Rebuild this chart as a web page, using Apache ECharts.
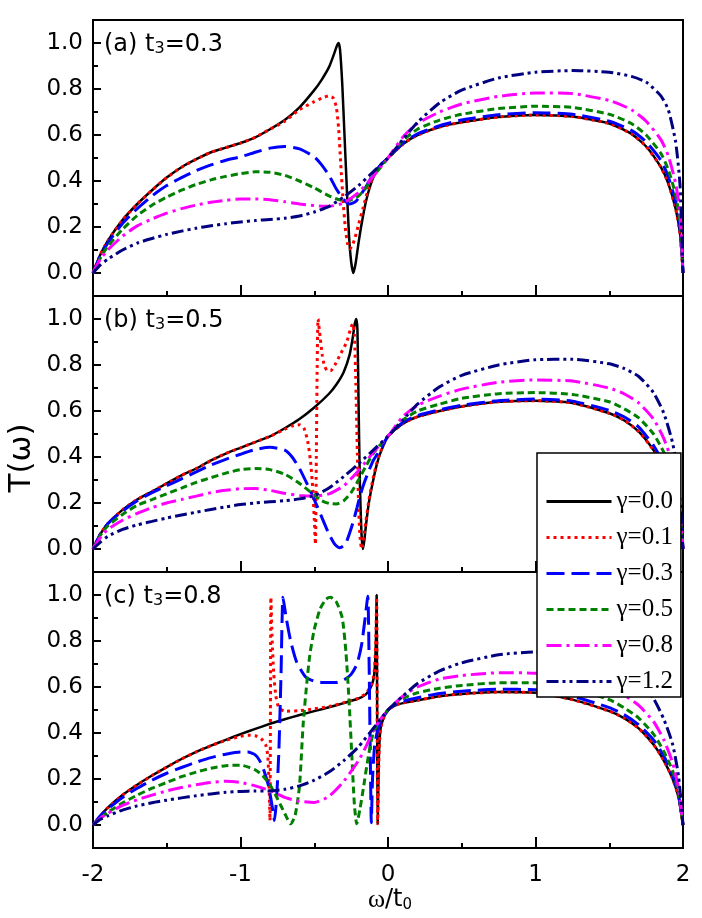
<!DOCTYPE html>
<html>
<head>
<meta charset="utf-8">
<script src="https://cdn.jsdelivr.net/npm/echarts@6/dist/echarts.min.js"></script>
<style>
  html, body { margin: 0; padding: 0; background: #fff; }
  #main { width: 702px; height: 918px; }
</style>
</head>
<body>
<div id="main"></div>
<script>
// legend names, one per gamma
const names = ['γ=0.0', 'γ=0.1', 'γ=0.3', 'γ=0.5', 'γ=0.8', 'γ=1.2'];
const xTicks = [-2, -1, 0, 1, 2];
const yTicks = [0, 0.2, 0.4, 0.6, 0.8, 1.0];

// panel (a) t3=0.3
const a_g00 = [[-2,0],[-1.95,0.08],[-1.9,0.14],[-1.8,0.23],[-1.7,0.30],[-1.6,0.36],[-1.5,0.415],[-1.4,0.46],[-1.3,0.495],[-1.2,0.525],[-1.1,0.545],[-1.0,0.565],[-0.9,0.59],[-0.8,0.625],[-0.7,0.665],[-0.6,0.72],[-0.5,0.795],[-0.45,0.84],[-0.4,0.895],[-0.37,0.945],[-0.345,0.99],[-0.335,1.0],[-0.325,0.97],[-0.31,0.82],[-0.295,0.6],[-0.28,0.38],[-0.265,0.17],[-0.25,0.05],[-0.235,0.0],[-0.22,0.04],[-0.2,0.13],[-0.18,0.21],[-0.15,0.31],[-0.12,0.38],[-0.09,0.43],[-0.05,0.47],[0,0.5],[0.1,0.56],[0.2,0.6],[0.35,0.635],[0.5,0.655],[0.75,0.678],[1.0,0.687],[1.25,0.68],[1.5,0.65],[1.65,0.605],[1.75,0.55],[1.85,0.46],[1.9,0.39],[1.95,0.28],[1.98,0.17],[2,0]];
const a_g01 = [[-2,0],[-1.95,0.08],[-1.9,0.14],[-1.8,0.23],[-1.7,0.30],[-1.6,0.36],[-1.5,0.415],[-1.4,0.46],[-1.3,0.495],[-1.2,0.525],[-1.1,0.545],[-1.0,0.565],[-0.9,0.59],[-0.8,0.625],[-0.7,0.66],[-0.6,0.71],[-0.5,0.745],[-0.45,0.76],[-0.4,0.77],[-0.37,0.76],[-0.35,0.72],[-0.335,0.63],[-0.32,0.47],[-0.305,0.32],[-0.29,0.2],[-0.275,0.13],[-0.26,0.105],[-0.245,0.115],[-0.225,0.15],[-0.2,0.21],[-0.17,0.28],[-0.14,0.35],[-0.1,0.42],[-0.05,0.47],[0,0.5],[0.1,0.56],[0.2,0.6],[0.35,0.635],[0.5,0.655],[0.75,0.678],[1.0,0.687],[1.25,0.68],[1.5,0.65],[1.65,0.605],[1.75,0.55],[1.85,0.46],[1.9,0.39],[1.95,0.28],[1.98,0.17],[2,0]];
const a_g03 = [[-2,0],[-1.95,0.075],[-1.9,0.13],[-1.8,0.215],[-1.7,0.28],[-1.6,0.335],[-1.5,0.38],[-1.4,0.415],[-1.3,0.445],[-1.2,0.47],[-1.1,0.49],[-1.0,0.505],[-0.9,0.525],[-0.8,0.543],[-0.7,0.55],[-0.6,0.54],[-0.5,0.505],[-0.45,0.47],[-0.4,0.425],[-0.35,0.365],[-0.3,0.32],[-0.26,0.3],[-0.22,0.31],[-0.18,0.345],[-0.14,0.385],[-0.1,0.43],[-0.05,0.47],[0,0.5],[0.1,0.565],[0.2,0.605],[0.35,0.64],[0.5,0.665],[0.75,0.688],[1.0,0.697],[1.25,0.69],[1.5,0.66],[1.65,0.62],[1.75,0.57],[1.85,0.49],[1.9,0.42],[1.95,0.31],[1.98,0.2],[2,0]];
const a_g05 = [[-2,0],[-1.95,0.065],[-1.9,0.115],[-1.8,0.19],[-1.7,0.25],[-1.6,0.295],[-1.5,0.33],[-1.4,0.36],[-1.3,0.385],[-1.2,0.405],[-1.1,0.42],[-1.0,0.432],[-0.9,0.44],[-0.8,0.438],[-0.7,0.425],[-0.6,0.40],[-0.5,0.37],[-0.4,0.335],[-0.33,0.318],[-0.27,0.315],[-0.2,0.335],[-0.15,0.37],[-0.1,0.42],[-0.05,0.46],[0,0.5],[0.1,0.575],[0.2,0.625],[0.35,0.665],[0.5,0.69],[0.75,0.715],[1.0,0.725],[1.25,0.72],[1.5,0.69],[1.65,0.65],[1.75,0.60],[1.85,0.52],[1.9,0.45],[1.95,0.34],[1.98,0.22],[2,0]];
const a_g08 = [[-2,0],[-1.95,0.06],[-1.9,0.10],[-1.8,0.16],[-1.7,0.205],[-1.6,0.235],[-1.5,0.26],[-1.4,0.28],[-1.3,0.295],[-1.2,0.308],[-1.1,0.316],[-1.0,0.322],[-0.9,0.322],[-0.8,0.318],[-0.7,0.31],[-0.6,0.30],[-0.5,0.293],[-0.4,0.29],[-0.3,0.305],[-0.2,0.35],[-0.1,0.42],[-0.05,0.46],[0,0.5],[0.1,0.59],[0.2,0.65],[0.35,0.70],[0.5,0.735],[0.75,0.768],[1.0,0.783],[1.25,0.78],[1.5,0.75],[1.65,0.71],[1.75,0.66],[1.85,0.58],[1.9,0.51],[1.95,0.39],[1.98,0.26],[2,0]];
const a_g12 = [[-2,0],[-1.95,0.035],[-1.9,0.06],[-1.8,0.10],[-1.7,0.13],[-1.6,0.15],[-1.5,0.168],[-1.4,0.182],[-1.3,0.195],[-1.2,0.205],[-1.1,0.214],[-1.0,0.222],[-0.9,0.228],[-0.8,0.233],[-0.7,0.238],[-0.6,0.248],[-0.5,0.265],[-0.4,0.29],[-0.3,0.33],[-0.2,0.38],[-0.1,0.44],[0,0.5],[0.1,0.58],[0.2,0.655],[0.35,0.74],[0.5,0.795],[0.75,0.848],[1.0,0.873],[1.25,0.88],[1.5,0.873],[1.65,0.855],[1.75,0.83],[1.85,0.77],[1.9,0.71],[1.95,0.57],[1.98,0.38],[2,0]];

// panel (b) t3=0.5
const b_g00 = [[-2,0],[-1.95,0.065],[-1.9,0.11],[-1.8,0.17],[-1.7,0.215],[-1.6,0.25],[-1.5,0.285],[-1.4,0.32],[-1.3,0.35],[-1.2,0.385],[-1.1,0.415],[-1.0,0.44],[-0.9,0.465],[-0.8,0.49],[-0.7,0.525],[-0.6,0.565],[-0.5,0.615],[-0.4,0.675],[-0.35,0.715],[-0.3,0.77],[-0.26,0.845],[-0.24,0.915],[-0.225,0.98],[-0.215,1.0],[-0.207,0.95],[-0.2,0.65],[-0.19,0.27],[-0.18,0.07],[-0.17,0.0],[-0.16,0.04],[-0.15,0.1],[-0.13,0.2],[-0.1,0.3],[-0.075,0.37],[-0.05,0.42],[0,0.49],[0.1,0.545],[0.2,0.575],[0.35,0.60],[0.5,0.62],[0.75,0.64],[1.0,0.645],[1.25,0.635],[1.5,0.59],[1.6,0.56],[1.7,0.51],[1.8,0.43],[1.87,0.35],[1.93,0.25],[1.97,0.15],[2,0]];
const b_g01 = [[-2,0],[-1.95,0.065],[-1.9,0.11],[-1.8,0.17],[-1.7,0.215],[-1.6,0.25],[-1.5,0.285],[-1.4,0.32],[-1.3,0.35],[-1.2,0.385],[-1.1,0.415],[-1.0,0.44],[-0.9,0.465],[-0.8,0.49],[-0.7,0.52],[-0.65,0.535],[-0.6,0.54],[-0.57,0.525],[-0.545,0.47],[-0.525,0.38],[-0.51,0.26],[-0.5,0.13],[-0.492,0.02],[-0.486,0.4],[-0.48,0.8],[-0.474,1.0],[-0.46,0.92],[-0.445,0.84],[-0.43,0.795],[-0.41,0.775],[-0.39,0.775],[-0.36,0.80],[-0.32,0.85],[-0.28,0.90],[-0.255,0.955],[-0.24,0.98],[-0.228,0.93],[-0.218,0.72],[-0.208,0.42],[-0.198,0.16],[-0.188,0.04],[-0.178,0.0],[-0.165,0.05],[-0.15,0.12],[-0.13,0.21],[-0.1,0.31],[-0.075,0.375],[-0.05,0.425],[0,0.49],[0.1,0.545],[0.2,0.575],[0.35,0.60],[0.5,0.62],[0.75,0.64],[1.0,0.645],[1.25,0.635],[1.5,0.59],[1.6,0.56],[1.7,0.51],[1.8,0.43],[1.87,0.35],[1.93,0.25],[1.97,0.15],[2,0]];
const b_g03 = [[-2,0],[-1.95,0.065],[-1.9,0.11],[-1.8,0.165],[-1.7,0.21],[-1.6,0.245],[-1.5,0.275],[-1.4,0.305],[-1.3,0.335],[-1.2,0.365],[-1.1,0.39],[-1.0,0.412],[-0.9,0.432],[-0.8,0.442],[-0.7,0.43],[-0.65,0.40],[-0.6,0.35],[-0.55,0.285],[-0.5,0.215],[-0.45,0.14],[-0.4,0.065],[-0.36,0.02],[-0.33,0.005],[-0.29,0.02],[-0.26,0.07],[-0.235,0.12],[-0.21,0.18],[-0.19,0.23],[-0.16,0.29],[-0.13,0.34],[-0.1,0.385],[-0.05,0.435],[0,0.49],[0.1,0.55],[0.2,0.58],[0.35,0.605],[0.5,0.625],[0.75,0.645],[1.0,0.652],[1.25,0.643],[1.5,0.603],[1.6,0.575],[1.7,0.53],[1.8,0.45],[1.87,0.37],[1.93,0.27],[1.97,0.165],[2,0]];
const b_g05 = [[-2,0],[-1.95,0.06],[-1.9,0.10],[-1.8,0.15],[-1.7,0.19],[-1.6,0.215],[-1.5,0.24],[-1.4,0.265],[-1.3,0.29],[-1.2,0.31],[-1.1,0.33],[-1.0,0.345],[-0.9,0.35],[-0.8,0.345],[-0.7,0.325],[-0.6,0.285],[-0.5,0.235],[-0.45,0.21],[-0.4,0.198],[-0.35,0.196],[-0.3,0.21],[-0.25,0.245],[-0.2,0.3],[-0.15,0.36],[-0.1,0.415],[-0.05,0.455],[0,0.49],[0.1,0.56],[0.2,0.6],[0.35,0.63],[0.5,0.655],[0.75,0.675],[1.0,0.68],[1.25,0.672],[1.5,0.64],[1.6,0.61],[1.7,0.57],[1.8,0.5],[1.87,0.42],[1.93,0.31],[1.97,0.19],[2,0]];
const b_g08 = [[-2,0],[-1.95,0.05],[-1.9,0.085],[-1.8,0.125],[-1.7,0.155],[-1.6,0.18],[-1.5,0.20],[-1.4,0.215],[-1.3,0.23],[-1.2,0.245],[-1.1,0.255],[-1.0,0.262],[-0.9,0.263],[-0.8,0.255],[-0.7,0.242],[-0.6,0.233],[-0.5,0.23],[-0.4,0.24],[-0.3,0.275],[-0.2,0.34],[-0.1,0.42],[-0.05,0.455],[0,0.49],[0.1,0.575],[0.2,0.625],[0.35,0.665],[0.5,0.695],[0.75,0.725],[1.0,0.735],[1.25,0.73],[1.5,0.70],[1.6,0.675],[1.7,0.635],[1.8,0.565],[1.87,0.48],[1.93,0.37],[1.97,0.23],[2,0]];
const b_g12 = [[-2,0],[-1.95,0.03],[-1.9,0.055],[-1.8,0.085],[-1.7,0.105],[-1.6,0.12],[-1.5,0.135],[-1.4,0.148],[-1.3,0.16],[-1.2,0.172],[-1.1,0.183],[-1.0,0.193],[-0.9,0.20],[-0.8,0.205],[-0.7,0.21],[-0.6,0.218],[-0.5,0.232],[-0.4,0.265],[-0.3,0.315],[-0.2,0.37],[-0.1,0.43],[0,0.49],[0.1,0.56],[0.2,0.63],[0.35,0.705],[0.5,0.755],[0.75,0.80],[1.0,0.823],[1.25,0.825],[1.5,0.805],[1.6,0.785],[1.7,0.75],[1.8,0.68],[1.87,0.59],[1.93,0.46],[1.97,0.30],[2,0]];

// panel (c) t3=0.8
const c_g00 = [[-2,0],[-1.95,0.04],[-1.9,0.075],[-1.8,0.13],[-1.7,0.175],[-1.6,0.215],[-1.5,0.252],[-1.4,0.287],[-1.3,0.318],[-1.2,0.345],[-1.1,0.37],[-1.0,0.395],[-0.9,0.418],[-0.8,0.44],[-0.7,0.46],[-0.6,0.478],[-0.5,0.495],[-0.4,0.512],[-0.3,0.53],[-0.2,0.55],[-0.15,0.568],[-0.12,0.595],[-0.1,0.63],[-0.09,0.68],[-0.082,0.8],[-0.077,1.0],[-0.074,0.6],[-0.072,0.2],[-0.07,0.005],[-0.066,0.15],[-0.06,0.33],[-0.05,0.42],[-0.03,0.465],[0,0.5],[0.05,0.52],[0.1,0.53],[0.2,0.542],[0.35,0.56],[0.5,0.57],[0.75,0.578],[1.0,0.575],[1.25,0.545],[1.5,0.495],[1.6,0.465],[1.7,0.42],[1.8,0.35],[1.87,0.28],[1.93,0.2],[1.97,0.12],[2,0]];
const c_g01 = [[-2,0],[-1.95,0.04],[-1.9,0.075],[-1.8,0.13],[-1.7,0.175],[-1.6,0.215],[-1.5,0.252],[-1.4,0.287],[-1.3,0.318],[-1.2,0.345],[-1.1,0.368],[-1.0,0.385],[-0.95,0.39],[-0.9,0.388],[-0.86,0.375],[-0.83,0.35],[-0.815,0.3],[-0.806,0.17],[-0.8,0.02],[-0.797,0.5],[-0.794,0.99],[-0.785,0.8],[-0.775,0.66],[-0.76,0.56],[-0.74,0.51],[-0.7,0.495],[-0.6,0.497],[-0.5,0.505],[-0.4,0.515],[-0.3,0.532],[-0.2,0.552],[-0.15,0.572],[-0.12,0.6],[-0.1,0.64],[-0.09,0.69],[-0.082,0.82],[-0.077,0.99],[-0.074,0.6],[-0.072,0.2],[-0.07,0.005],[-0.066,0.15],[-0.06,0.33],[-0.05,0.42],[-0.03,0.465],[0,0.5],[0.05,0.52],[0.1,0.53],[0.2,0.542],[0.35,0.56],[0.5,0.57],[0.75,0.578],[1.0,0.575],[1.25,0.545],[1.5,0.495],[1.6,0.465],[1.7,0.42],[1.8,0.35],[1.87,0.28],[1.93,0.2],[1.97,0.12],[2,0]];
const c_g03 = [[-2,0],[-1.95,0.04],[-1.9,0.07],[-1.8,0.12],[-1.7,0.16],[-1.6,0.195],[-1.5,0.225],[-1.4,0.25],[-1.3,0.273],[-1.2,0.293],[-1.1,0.308],[-1.0,0.317],[-0.95,0.317],[-0.9,0.305],[-0.87,0.28],[-0.84,0.235],[-0.81,0.17],[-0.79,0.1],[-0.77,0.02],[-0.755,0.12],[-0.74,0.32],[-0.725,0.66],[-0.712,0.99],[-0.69,0.9],[-0.66,0.8],[-0.62,0.71],[-0.56,0.645],[-0.5,0.625],[-0.45,0.62],[-0.4,0.62],[-0.35,0.62],[-0.3,0.63],[-0.25,0.655],[-0.21,0.7],[-0.18,0.78],[-0.155,0.9],[-0.137,0.995],[-0.128,0.7],[-0.12,0.3],[-0.113,0.01],[-0.105,0.2],[-0.09,0.35],[-0.07,0.41],[-0.04,0.46],[0,0.5],[0.05,0.525],[0.1,0.538],[0.2,0.553],[0.35,0.572],[0.5,0.582],[0.75,0.59],[1.0,0.588],[1.25,0.56],[1.5,0.51],[1.6,0.48],[1.7,0.435],[1.8,0.37],[1.87,0.30],[1.93,0.215],[1.97,0.13],[2,0]];
const c_g05 = [[-2,0],[-1.95,0.03],[-1.9,0.055],[-1.8,0.095],[-1.7,0.13],[-1.6,0.16],[-1.5,0.185],[-1.4,0.21],[-1.3,0.23],[-1.2,0.247],[-1.1,0.258],[-1.0,0.26],[-0.9,0.24],[-0.85,0.215],[-0.8,0.175],[-0.75,0.115],[-0.7,0.05],[-0.66,0.005],[-0.63,0.04],[-0.6,0.17],[-0.575,0.44],[-0.55,0.62],[-0.53,0.74],[-0.5,0.85],[-0.46,0.94],[-0.42,0.982],[-0.39,0.99],[-0.35,0.97],[-0.31,0.90],[-0.285,0.75],[-0.265,0.55],[-0.245,0.3],[-0.228,0.09],[-0.212,0.005],[-0.19,0.07],[-0.167,0.16],[-0.133,0.30],[-0.1,0.40],[-0.05,0.46],[0,0.5],[0.05,0.53],[0.1,0.55],[0.2,0.575],[0.35,0.595],[0.5,0.607],[0.75,0.618],[1.0,0.618],[1.25,0.595],[1.5,0.545],[1.6,0.51],[1.7,0.465],[1.8,0.395],[1.87,0.32],[1.93,0.235],[1.97,0.14],[2,0]];
const c_g08 = [[-2,0],[-1.95,0.03],[-1.9,0.05],[-1.8,0.085],[-1.7,0.11],[-1.6,0.13],[-1.5,0.148],[-1.4,0.163],[-1.3,0.175],[-1.2,0.185],[-1.1,0.19],[-1.0,0.185],[-0.9,0.17],[-0.8,0.15],[-0.7,0.12],[-0.6,0.103],[-0.5,0.098],[-0.4,0.125],[-0.3,0.19],[-0.2,0.28],[-0.15,0.34],[-0.1,0.41],[-0.05,0.46],[0,0.5],[0.1,0.56],[0.2,0.60],[0.35,0.635],[0.5,0.65],[0.75,0.662],[1.0,0.66],[1.25,0.64],[1.5,0.595],[1.6,0.565],[1.7,0.52],[1.8,0.45],[1.87,0.37],[1.93,0.27],[1.97,0.16],[2,0]];
const c_g12 = [[-2,0],[-1.95,0.025],[-1.9,0.04],[-1.8,0.065],[-1.7,0.083],[-1.6,0.097],[-1.5,0.108],[-1.4,0.118],[-1.3,0.127],[-1.2,0.135],[-1.1,0.142],[-1.0,0.146],[-0.9,0.148],[-0.8,0.148],[-0.7,0.155],[-0.6,0.17],[-0.5,0.195],[-0.4,0.23],[-0.3,0.28],[-0.2,0.34],[-0.1,0.42],[0,0.5],[0.1,0.56],[0.2,0.615],[0.35,0.67],[0.5,0.705],[0.75,0.74],[1.0,0.752],[1.25,0.745],[1.5,0.71],[1.6,0.68],[1.7,0.63],[1.8,0.55],[1.87,0.46],[1.93,0.35],[1.97,0.21],[2,0]];

const panelLetters = ['a', 'b', 'c'];
const panelT3 = ['0.3', '0.5', '0.8'];
const panelData = [
  [a_g00, a_g01, a_g03, a_g05, a_g08, a_g12],
  [b_g00, b_g01, b_g03, b_g05, b_g08, b_g12],
  [c_g00, c_g01, c_g03, c_g05, c_g08, c_g12]
];

const colors = ['#000000', '#ff0000', '#0000ff', '#008000', '#ff00ff', '#000080'];
const dashes = ['solid', [3, 4], [18, 7], [7, 4], [15, 5, 3, 5], [12, 4, 3, 4, 3, 4]];
const widths = [2.5, 3, 3, 3, 3, 3];

const gridTops = [20, 296, 572];
const gridH = 276;
const titleTops = [33, 309, 585];
const FONT = 'DejaVu Sans';
const black = { color: '#000', width: 2 };

const chart = echarts.init(document.getElementById('main'));

const grids = [], xAxes = [], yAxes = [], series = [], titles = [];
for (let p = 0; p < 3; p++) {
  grids.push({
    left: 93, right: 19, top: gridTops[p], height: gridH,
    show: true, borderColor: '#000', borderWidth: 2,
    outerBoundsMode: 'none', containLabel: false
  });
  xAxes.push({
    gridIndex: p, type: 'value', min: -2, max: 2, interval: 1, position: 'bottom',
    axisLine: { show: true, onZero: false, lineStyle: black },
    axisTick: { show: true, inside: true, length: 11, lineStyle: black },
    minorTick: { show: true, splitNumber: 2, length: 5, lineStyle: black },
    axisLabel: { show: p === 2, fontSize: 23, color: '#000', fontFamily: FONT, margin: 16 },
    splitLine: { show: false }, minorSplitLine: { show: false }
  });
  // minor ticks every 0.1
  yAxes.push({
    gridIndex: p, type: 'value', position: 'left', min: -0.1, max: 1.1, interval: 0.1,
    axisLine: { show: true, onZero: false, lineStyle: black },
    axisTick: { show: true, inside: true, length: 5, lineStyle: black },
    axisLabel: { show: false },
    splitLine: { show: false }
  });
  // major ticks + labels
  yAxes.push({
    gridIndex: p, type: 'value', position: 'left', min: -0.1, max: 1.1, offset: 0,
    axisLine: { show: false, onZero: false },
    axisTick: { show: true, inside: true, length: 8, customValues: yTicks, lineStyle: black },
    axisLabel: {
      show: true, customValues: yTicks, formatter: v => v.toFixed(1),
      fontSize: 23, color: '#000', fontFamily: FONT, margin: 10
    },
    splitLine: { show: false }
  });
  titles.push({
    text: '{m|(' + panelLetters[p] + ') t}{s|3}{m|=' + panelT3[p] + '}',
    left: 104, top: titleTops[p], padding: 0,
    textStyle: {
      fontWeight: 'normal',
      rich: {
        m: { fontSize: 24, fontFamily: FONT, fontWeight: 'normal', color: '#000' },
        s: { fontSize: 16, fontFamily: FONT, fontWeight: 'normal', color: '#000', verticalAlign: 'bottom' }
      }
    }
  });
  for (let k = 0; k < 6; k++) {
    series.push({
      type: 'line', name: names[k], xAxisIndex: p, yAxisIndex: 2 * p,
      data: panelData[p][k], symbol: 'none', smooth: 0.2,
      lineStyle: { color: colors[k], width: widths[k], type: dashes[k] },
      itemStyle: { color: colors[k] },
      z: 2 + k
    });
  }
}

chart.setOption({
  animation: false,
  backgroundColor: '#fff',
  title: titles,
  grid: grids,
  xAxis: xAxes,
  yAxis: yAxes,
  series: series,
  legend: {
    data: names, orient: 'vertical', left: 537, top: 453, z: 30,
    padding: [36, 8, 3, 8], itemGap: 11, itemWidth: 65, itemHeight: 14,
    backgroundColor: '#fff', borderColor: '#000', borderWidth: 1.5,
    itemStyle: { opacity: 0 },
    lineStyle: { width: 3 },
    selectedMode: false,
    textStyle: { fontFamily: 'Liberation Serif', fontSize: 25, lineHeight: 24, color: '#000' }
  },
  graphic: [
    {
      type: 'text', x: 22, y: 458, rotation: Math.PI / 2,
      style: { text: 'T(ω)', font: '31px "DejaVu Sans"', fill: '#000', align: 'center', verticalAlign: 'middle' }
    },
    {
      type: 'text', x: 390, y: 900,
      style: {
        text: '{w|ω}{n|/t}{s|0}', align: 'center', verticalAlign: 'middle', fill: '#000',
        rich: {
          w: { fontSize: 26, fontFamily: 'Liberation Serif', fill: '#000' },
          n: { fontSize: 24, fontFamily: FONT, fill: '#000' },
          s: { fontSize: 15, fontFamily: FONT, fill: '#000', verticalAlign: 'bottom' }
        }
      }
    }
  ]
});
</script>
</body>
</html>
